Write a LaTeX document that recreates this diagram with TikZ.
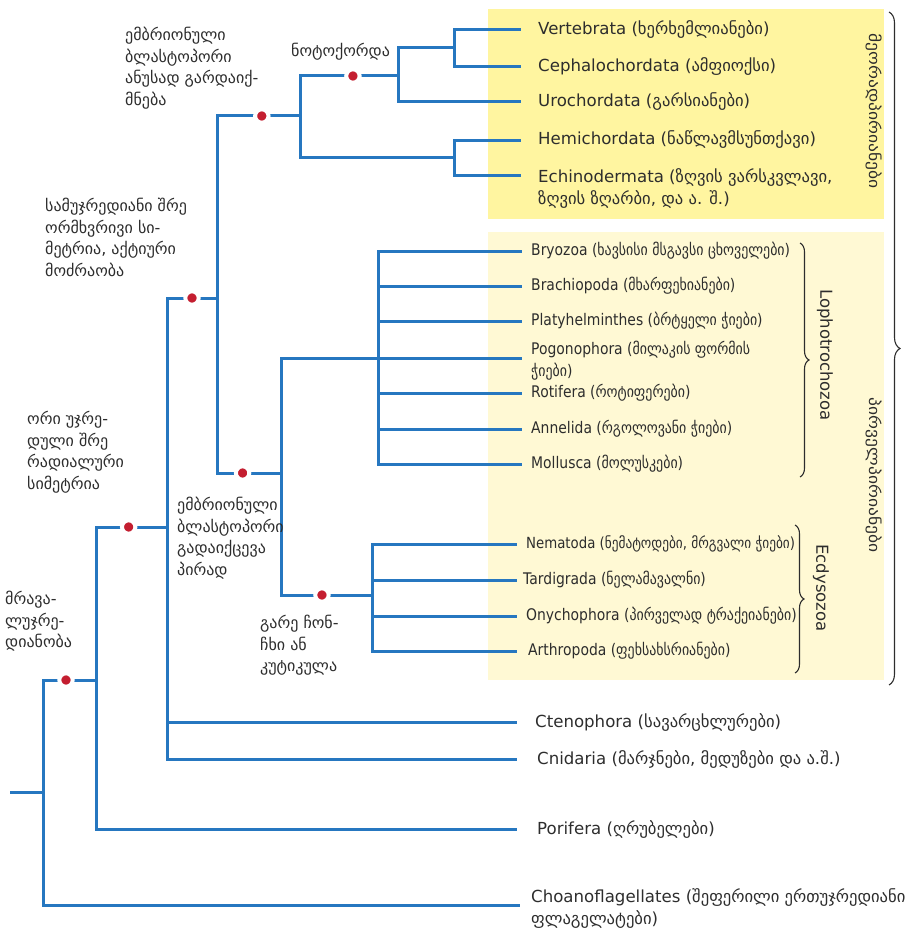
\documentclass[tikz,border=0pt]{standalone}
\usepackage{fontspec}
\setmainfont{DejaVu Sans}
\newfontfamily\narrowfont{DejaVu Sans}[FakeStretch=0.87]
\newfontfamily\widefont{DejaVu Sans}[FakeStretch=1.17]
\usetikzlibrary{positioning}
\usetikzlibrary{decorations.pathreplacing}
\definecolor{treeblue}{RGB}{38,119,192}
\definecolor{markred}{RGB}{196,30,48}
\definecolor{deutero fill}{RGB}{255,245,160}
\definecolor{proto fill}{RGB}{255,249,212}
\definecolor{inkgrey}{RGB}{45,45,45}
\tikzset{
    % Thick blue lines of the tree
    branch/.style={draw=treeblue, line width=3pt},
%
    % Red mark for a new trait, with a white gap round it
    trait/.style={circle, fill=markred, draw=white, line width=4pt,
        inner sep=0, minimum size=13.4pt},
%
    % Names at the ends of the branches
    leaf/.style={inner sep=0, text=inkgrey,
        font=\fontsize{16.6}{22}\selectfont},
    small leaf/.style={leaf, font=\narrowfont\fontsize{16}{22}\selectfont},
%
    % Notes on the traits, beside the branches
    note/.style={inner sep=0, anchor=north west, align=left, text=inkgrey,
        font=\fontsize{16}{21.5}\selectfont},
%
    % Curly brackets round the groups
    group brace/.style={draw=inkgrey, line width=1.1pt, decorate,
        decoration={brace, amplitude=#1}},
    group name/.style={rotate=-90, inner sep=0, text=inkgrey,
        font=\fontsize{16.5}{20}\selectfont}}

\begin{document}
\begin{tikzpicture}[x=1pt, y=-1pt]
\useasboundingbox (0,0) rectangle (906,931);

% Shaded backgrounds of the two bilaterian groups
\fill[deutero fill] (488,9) rectangle (884,219);
\fill[proto fill] (488,232) rectangle (884,680);

% Branching points of the tree
\coordinate (root stub) at (10,792);
\coordinate (root) at (43,792);
\coordinate (metazoa) at (96,680);
\coordinate (eumetazoa) at (167,527);
\coordinate (bilateria) at (217,298);
\coordinate (deuterostomia) at (300,116);
\coordinate (chordata) at (398,76);
\coordinate (olfactores) at (454,48);
\coordinate (ambulacraria) at (454,157);
\coordinate (protostomia) at (281,473);
\coordinate (lophotrochozoa) at (378,358);
\coordinate (ecdysozoa) at (372,595);

% Free ends of the branches
\coordinate (vertebrata tip) at (521,30);
\coordinate (cephalochordata tip) at (521,67);
\coordinate (urochordata tip) at (521,102);
\coordinate (hemichordata tip) at (521,140);
\coordinate (echinodermata tip) at (521,175);
\coordinate (bryozoa tip) at (522,251);
\coordinate (brachiopoda tip) at (522,286);
\coordinate (platyhelminthes tip) at (522,321);
\coordinate (pogonophora tip) at (522,358);
\coordinate (rotifera tip) at (522,393);
\coordinate (annelida tip) at (522,429);
\coordinate (mollusca tip) at (522,464);
\coordinate (nematoda tip) at (517,544);
\coordinate (tardigrada tip) at (517,580);
\coordinate (onychophora tip) at (517,616);
\coordinate (arthropoda tip) at (517,651);
\coordinate (ctenophora tip) at (517,722);
\coordinate (cnidaria tip) at (517,759);
\coordinate (porifera tip) at (517,829);
\coordinate (choanoflagellates tip) at (520,905);

% The tree, parent to child
\draw[branch] (root stub) -- (root);
\draw[branch] (root) |- node[trait, pos=0.717] {} (metazoa);
\draw[branch] (root) |- (choanoflagellates tip);
\draw[branch] (metazoa) |- node[trait, pos=0.73] {} (eumetazoa);
\draw[branch] (metazoa) |- (porifera tip);
\draw[branch] (eumetazoa) |- node[trait, pos=0.75] {} (bilateria);
\draw[branch] (eumetazoa) |- (ctenophora tip);
\draw[branch] (eumetazoa) |- (cnidaria tip);
\draw[branch] (bilateria) |- node[trait, pos=0.77] {} (deuterostomia);
\draw[branch] (bilateria) |- node[trait, pos=0.70] {} (protostomia);
\draw[branch] (deuterostomia) |- node[trait, pos=0.77] {} (chordata);
\draw[branch] (deuterostomia) |- (ambulacraria);
\draw[branch] (chordata) |- (olfactores);
\draw[branch] (chordata) |- (urochordata tip);
\draw[branch] (olfactores) |- (vertebrata tip);
\draw[branch] (olfactores) |- (cephalochordata tip);
\draw[branch] (ambulacraria) |- (hemichordata tip);
\draw[branch] (ambulacraria) |- (echinodermata tip);
\draw[branch] (protostomia) |- (lophotrochozoa);
\draw[branch] (protostomia) |- node[trait, pos=0.725] {} (ecdysozoa);
\draw[branch] (lophotrochozoa) |- (bryozoa tip);
\draw[branch] (lophotrochozoa) |- (brachiopoda tip);
\draw[branch] (lophotrochozoa) |- (platyhelminthes tip);
\draw[branch] (lophotrochozoa) |- (pogonophora tip);
\draw[branch] (lophotrochozoa) |- (rotifera tip);
\draw[branch] (lophotrochozoa) |- (annelida tip);
\draw[branch] (lophotrochozoa) |- (mollusca tip);
\draw[branch] (ecdysozoa) |- (nematoda tip);
\draw[branch] (ecdysozoa) |- (tardigrada tip);
\draw[branch] (ecdysozoa) |- (onychophora tip);
\draw[branch] (ecdysozoa) |- (arthropoda tip);

% Deuterostomes
\node[leaf, right=17pt of vertebrata tip] (vertebrata)
    {Vertebrata (ხერხემლიანები)};
\node[leaf, right=17pt of cephalochordata tip] (cephalochordata)
    {Cephalochordata (ამფიოქსი)};
\node[leaf, right=17pt of urochordata tip] (urochordata)
    {Urochordata (გარსიანები)};
\node[leaf, right=17pt of hemichordata tip] (hemichordata)
    {Hemichordata (ნაწლავმსუნთქავი)};
\node[leaf, align=left, anchor=north west] (echinodermata)
    at ([xshift=17pt, yshift=7pt]echinodermata tip)
    {Echinodermata (ზღვის ვარსკვლავი,\\ზღვის ზღარბი, და ა. შ.)};

% Lophotrochozoans
\node[small leaf, right=9pt of bryozoa tip] (bryozoa)
    {Bryozoa (ხავსისი მსგავსი ცხოველები)};
\node[small leaf, right=9pt of brachiopoda tip] (brachiopoda)
    {Brachiopoda (მხარფეხიანები)};
\node[small leaf, right=9pt of platyhelminthes tip] (platyhelminthes)
    {Platyhelminthes (ბრტყელი ჭიები)};
\node[small leaf, align=left, anchor=north west] (pogonophora)
    at ([xshift=9pt, yshift=17pt]pogonophora tip)
    {Pogonophora (მილაკის ფორმის\\ჭიები)};
\node[small leaf, right=9pt of rotifera tip] (rotifera)
    {Rotifera (როტიფერები)};
\node[small leaf, right=9pt of annelida tip] (annelida)
    {Annelida (რგოლოვანი ჭიები)};
\node[small leaf, right=9pt of mollusca tip] (mollusca)
    {Mollusca (მოლუსკები)};

% Ecdysozoans
\node[small leaf, right=9pt of nematoda tip,
    font=\narrowfont\fontsize{15.3}{22}\selectfont] (nematoda)
    {Nematoda (ნემატოდები, მრგვალი ჭიები)};
\node[small leaf, right=6pt of tardigrada tip] (tardigrada)
    {Tardigrada (ნელამავალნი)};
\node[small leaf, right=9pt of onychophora tip] (onychophora)
    {Onychophora (პირველად ტრაქეიანები)};
\node[small leaf, right=11pt of arthropoda tip] (arthropoda)
    {Arthropoda (ფეხსახსრიანები)};

% Early branches
\node[leaf, right=18pt of ctenophora tip] (ctenophora)
    {Ctenophora (სავარცხლურები)};
\node[leaf, right=20pt of cnidaria tip] (cnidaria)
    {Cnidaria (მარჯნები, მედუზები და ა.შ.)};
\node[leaf, right=20pt of porifera tip] (porifera)
    {Porifera (ღრუბელები)};
\node[leaf, align=left, anchor=north west] (choanoflagellates)
    at ([xshift=11pt, yshift=17pt]choanoflagellates tip)
    {Choanoflagellates (შეფერილი ერთუჯრედიანი\\ფლაგელატები)};

% Notes on the traits
\node[note] (anus note) at (125,27)
    {ემბრიონული\\ბლასტოპორი\\ანუსად გარდაიქ-\\მნება};
\node[note] (notochord note) at (291,43) {ნოტოქორდა};
\node[note] (bilateral note) at (45,198)
    {სამუჯრედიანი შრე\\ორმხვრივი სი-\\მეტრია, აქტიური\\მოძრაობა};
\node[note] (radial note) at (27,411)
    {ორი უჯრე-\\დული შრე\\რადიალური\\სიმეტრია};
\node[note] (multicell note) at (5,591)
    {მრავა-\\ლუჯრე-\\დიანობა};
\node[note] (mouth note) at (177,497)
    {ემბრიონული\\ბლასტოპორი\\გადაიქცევა\\პირად};
\node[note] (cuticle note) at (260,615)
    {გარე ჩონ-\\ჩხი ან\\კუტიკულა};

% Brackets and group names
\draw[group brace=9pt] (800,243) -- (800,477);
\node[group name] (lophotrochozoa name) at (825,355) {Lophotrochozoa};
\draw[group brace=9pt] (795,525) -- (795,673);
\node[group name] (ecdysozoa name) at (821,588) {Ecdysozoa};
\draw[group brace=11pt] (889,12) -- (889,685);
\node[group name, font=\widefont\fontsize{15}{18}\selectfont]
    (deuterostome name) at (874,111) {მეორადპირიანები};
\node[group name, font=\widefont\fontsize{15}{18}\selectfont]
    (protostome name) at (874,475) {პირველპირიანები};

\end{tikzpicture}
\end{document}
